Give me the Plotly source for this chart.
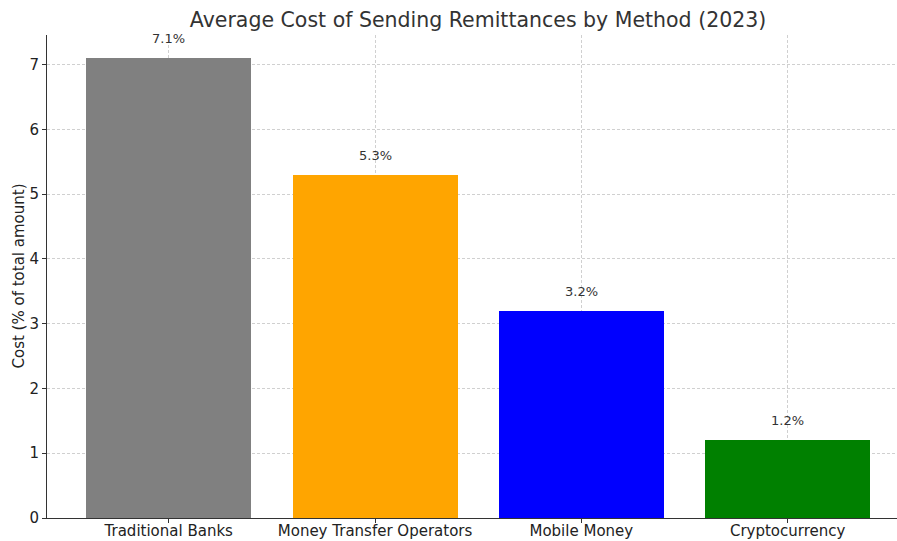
import plotly.graph_objects as go

methods = ["Traditional Banks", "Money Transfer Operators", "Mobile Money", "Cryptocurrency"]
costs = [7.1, 5.3, 3.2, 1.2]
colors = ["grey", "orange", "blue", "green"]
y_ticks = [0, 1, 2, 3, 4, 5, 6, 7]

x_pos = list(range(len(methods)))

fig = go.Figure()
fig.add_trace(go.Bar(
    x=x_pos,
    y=costs,
    width=0.8,
    marker=dict(color=colors, line=dict(width=0)),
    showlegend=False,
))

# value labels above each bar
for xi, v in zip(x_pos, costs):
    fig.add_annotation(
        x=xi, y=v + 0.3, text=f"{v}%", showarrow=False,
        xanchor="center", yanchor="middle",
        font=dict(size=13, color="#333333"),
    )

# y-axis title placed as a rotated annotation left of the tick labels
fig.add_annotation(
    text="Cost (% of total amount)", xref="paper", yref="paper",
    x=-29 / 850, y=0.5, textangle=-90, showarrow=False,
    xanchor="center", yanchor="middle",
    font=dict(size=15, color="#222222"),
)

grid = dict(showgrid=True, gridcolor="#d0d0d0", gridwidth=0.7, griddash="3px,2px")

fig.update_layout(
    width=897, height=541,
    margin=dict(l=47, r=0, t=35, b=23),
    paper_bgcolor="white", plot_bgcolor="white",
    font=dict(family="DejaVu Sans", size=15, color="#222222"),
    title=dict(text="Average Cost of Sending Remittances by Method (2023)",
               x=0.533, xanchor="center", y=0.963, yanchor="middle",
               font=dict(size=20.5, color="#333333")),
    bargap=0,
    xaxis=dict(
        range=[-0.59, 3.53],
        tickmode="array", tickvals=x_pos, ticktext=methods,
        ticks="outside", ticklen=4, tickcolor="#333333",
        ticklabelstandoff=-5,
        showline=True, linecolor="#333333", linewidth=1,
        layer="above traces",
        zeroline=False, automargin=False,
        **grid,
    ),
    yaxis=dict(
        range=[0, 7.455],
        tickmode="array", tickvals=y_ticks,
        ticks="outside", ticklen=4, tickcolor="#333333",
        showline=True, linecolor="#333333", linewidth=1,
        layer="above traces",
        zeroline=False, automargin=False,
        **grid,
    ),
)

fig.write_html("out.html")
